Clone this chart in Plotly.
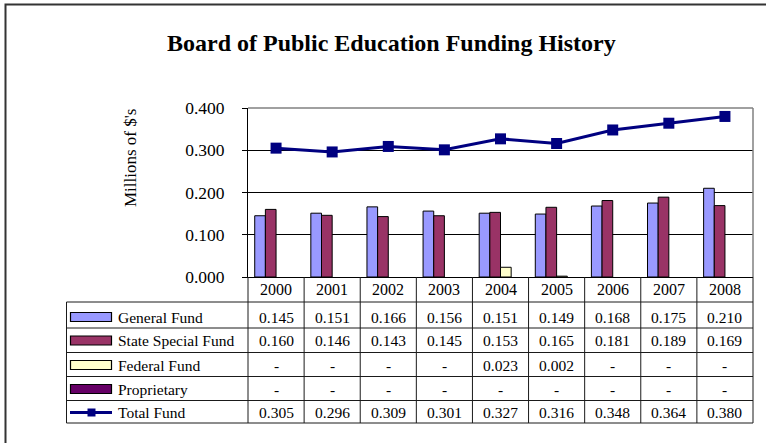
import plotly.graph_objects as go

# ---------------- data ----------------
years = ["2000", "2001", "2002", "2003", "2004", "2005", "2006", "2007", "2008"]
general_fund = [0.145, 0.151, 0.166, 0.156, 0.151, 0.149, 0.168, 0.175, 0.210]
state_special_fund = [0.160, 0.146, 0.143, 0.145, 0.153, 0.165, 0.181, 0.189, 0.169]
federal_fund = [None, None, None, None, 0.023, 0.002, None, None, None]
proprietary = [None, None, None, None, None, None, None, None, None]
total_fund = [0.305, 0.296, 0.309, 0.301, 0.327, 0.316, 0.348, 0.364, 0.380]
y_ticks = [0.0, 0.1, 0.2, 0.3, 0.4]

series_names = ["General Fund", "State Special Fund", "Federal Fund", "Proprietary"]
series_values = [general_fund, state_special_fund, federal_fund, proprietary]
series_colors = ["#9999FF", "#993366", "#FFFFCC", "#660066"]
line_color = "#000080"

# ---------------- geometry helpers ----------------
W, H = 766, 443
L, R, T, B = 248, 753, 108, 277
PW, PH = R - L, B - T
FONT = "Liberation Serif, Times New Roman, serif"


def px(x):
    return (x - L) / PW


def py(y):
    return (B - y) / PH


n = len(years)


def col_center(i):
    # centre of category i on the category axis (range -0.5 .. n-0.5) in paper units
    return (i + 0.5) / n


fig = go.Figure()

for name, vals, col in zip(series_names, series_values, series_colors):
    fig.add_trace(go.Bar(x=years, y=vals, name=name, marker=dict(color=col, line=dict(color="black", width=1))))

fig.add_trace(go.Scatter(x=years, y=total_fund, name="Total Fund", mode="lines+markers",
                         line=dict(color=line_color, width=3),
                         marker=dict(symbol="square", size=11, color=line_color)))

shapes = []
annotations = []
tline = dict(color="#1a1a1a", width=1)

# outer chart border
shapes.append(dict(type="rect", xref="paper", yref="paper", x0=px(5.5), x1=px(775), y0=py(4.5), y1=py(460),
                   line=dict(color="#333333", width=2), layer="below"))
# plot area top/right gray border
shapes.append(dict(type="line", xref="paper", yref="paper", x0=0, x1=1, y0=1, y1=1,
                   line=dict(color="#808080", width=1.5)))
shapes.append(dict(type="line", xref="paper", yref="paper", x0=1, x1=1, y0=0, y1=1,
                   line=dict(color="#808080", width=1.5)))

# table geometry
row_lines = [302, 328, 352.5, 376.5, 400.5, 423]
row_text_y = [317, 340.5, 365, 389, 412.5]
header_y = 289.5
table_left = 66.5

# vertical column lines (category boundaries)
for i in range(n + 1):
    shapes.append(dict(type="line", xref="paper", yref="paper", x0=i / n, x1=i / n,
                       y0=py(B), y1=py(row_lines[-1]), line=tline))
# horizontal lines
for yy in row_lines:
    shapes.append(dict(type="line", xref="paper", yref="paper", x0=px(table_left), x1=1,
                       y0=py(yy), y1=py(yy), line=tline))
shapes.append(dict(type="line", xref="paper", yref="paper", x0=px(table_left), x1=px(table_left),
                   y0=py(row_lines[0]), y1=py(row_lines[-1]), line=tline))

# header years
for i, yr in enumerate(years):
    annotations.append(dict(x=col_center(i), xref="paper", y=py(header_y), yref="paper", text=yr,
                            showarrow=False, font=dict(family=FONT, size=16, color="black"),
                            xanchor="center", yanchor="middle"))


def fmt(v):
    return "-" if not v else f"{v:.3f}"


all_names = series_names + ["Total Fund"]
all_vals = series_values + [total_fund]
for r, (name, vals) in enumerate(zip(all_names, all_vals)):
    yc = row_text_y[r]
    annotations.append(dict(x=px(116), xref="paper", y=py(yc), yref="paper", text=name, showarrow=False,
                            font=dict(family=FONT, size=15.5, color="black"), xanchor="left", yanchor="middle"))
    for i, v in enumerate(vals):
        annotations.append(dict(x=col_center(i), xref="paper", y=py(yc), yref="paper", text=fmt(v),
                                showarrow=False, font=dict(family=FONT, size=15.5, color="black"),
                                xanchor="center", yanchor="middle"))
    if r < 4:
        shapes.append(dict(type="rect", xref="paper", yref="paper", x0=px(70.5), x1=px(111.5),
                           y0=py(yc - 4.5), y1=py(yc + 4.5),
                           fillcolor=series_colors[r], line=dict(color="black", width=1.2)))
    else:
        shapes.append(dict(type="line", xref="paper", yref="paper", x0=px(70), x1=px(112),
                           y0=py(yc), y1=py(yc), line=dict(color=line_color, width=3)))
        shapes.append(dict(type="rect", xref="paper", yref="paper", x0=px(87.5), x1=px(95.5),
                           y0=py(yc - 4), y1=py(yc + 4), fillcolor=line_color, line=dict(width=0)))

# title
annotations.append(dict(x=px(391.5), xref="paper", y=py(43.5), yref="paper",
                        text="<b>Board of Public Education Funding History</b>", showarrow=False,
                        font=dict(family=FONT, size=24, color="black"), xanchor="center", yanchor="middle"))
# y axis title
annotations.append(dict(x=px(130), xref="paper", y=py(158), yref="paper", text="Millions of $'s",
                        textangle=-90, showarrow=False,
                        font=dict(family=FONT, size=17, color="black"), xanchor="center", yanchor="middle"))

fig.update_layout(
    width=W, height=H,
    margin=dict(l=L, r=W - R, t=T, b=H - B, pad=0),
    paper_bgcolor="white", plot_bgcolor="white",
    barmode="group", bargap=0.24, bargroupgap=0,
    showlegend=False,
    shapes=shapes, annotations=annotations,
    font=dict(family=FONT, color="black"),
)
fig.update_xaxes(type="category", showticklabels=False, ticks="", showgrid=False,
                 showline=True, linecolor="black", linewidth=1, range=[-0.5, n - 0.5], fixedrange=True)
fig.update_yaxes(range=[0, 0.4], tickvals=y_ticks, tickformat=".3f", ticks="outside", ticklen=5,
                 tickcolor="black", ticklabelstandoff=14, showgrid=True, gridcolor="black", gridwidth=1,
                 showline=True, linecolor="black", linewidth=1, zeroline=False,
                 tickfont=dict(family=FONT, size=17.5, color="black"))

fig.write_html("out.html")
